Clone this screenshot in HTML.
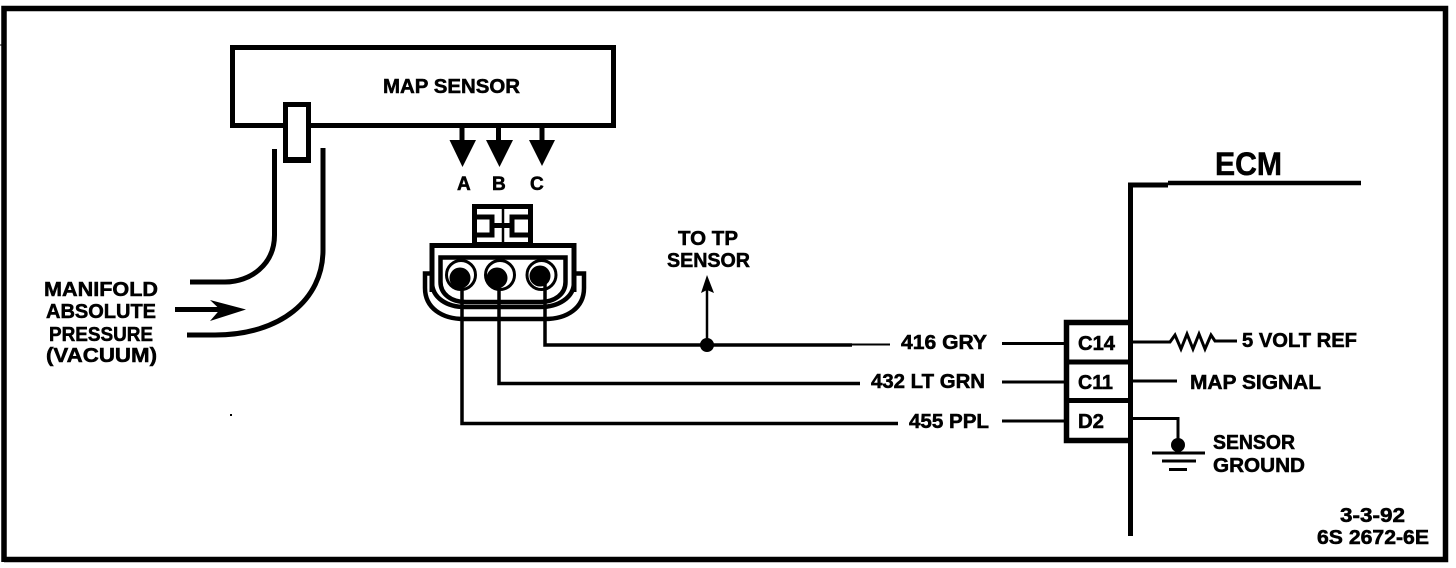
<!DOCTYPE html>
<html><head><meta charset="utf-8">
<style>
html,body{margin:0;padding:0;background:#fff;width:1456px;height:568px;overflow:hidden}
svg{display:block}
text{font-family:"Liberation Sans",sans-serif;font-weight:bold;fill:#000;stroke:#000;stroke-width:.55}
</style></head><body>
<svg width="1456" height="568" viewBox="0 0 1456 568" xmlns="http://www.w3.org/2000/svg">
<rect width="1456" height="568" fill="#fff"/>
<g fill="none" stroke="#000" stroke-linecap="butt">
<!-- frame -->
<path d="M4 562V8.500H1445.500V559.500H4" stroke-width="5.500"/>
<path d="M0 45H2" stroke-width="1"/>
<!-- map sensor -->
<rect x="232.500" y="47.500" width="381" height="78" stroke-width="5" fill="#fff"/>
<rect x="285.500" y="104.500" width="23" height="56" stroke-width="5" fill="#fff"/>
<path d="M288 159H306" stroke-width="4"/>
<!-- tubes -->
<path d="M274.500 149V235C274.500 265 250 282 225 282H190" stroke-width="5"/>
<path d="M323 148V250C323 300 280 335 215 335H187" stroke-width="5"/>
<path d="M175 309.500H220" stroke-width="5"/>
<!-- pins -->
<path d="M462 128V142M498.500 128V142M542 128V142" stroke-width="5"/>
<!-- connector tab -->
<rect x="474.500" y="206.500" width="56" height="38" stroke-width="5"/>
<path d="M503 207V244" stroke-width="2.500"/>
<path d="M477 217H492V225.500H503M477 235H492V227M529 217H512V225.500H503M529 235H512V227" stroke-width="5"/>
<!-- connector body -->
<path d="M432 292V245.500H574V292" stroke-width="5"/>
<path d="M440.500 257.500H565.500V282C565.500 294 555 302 540 302H466C451 302 440.500 294 440.500 282Z" stroke-width="4.500"/>
<path d="M432 282C432 298 447 307 465 307H540C558 307 574 298 574 282" stroke-width="4.500"/>
<path d="M433 273.500H425V288C425 308 442 319 464 319H545C567 319 584 308 584 288V273.500H575" stroke-width="4.500"/>
<!-- terminals -->
<circle cx="461" cy="275" r="14.500" stroke-width="3"/>
<circle cx="500" cy="275" r="14.500" stroke-width="3"/>
<circle cx="541.500" cy="275" r="14.500" stroke-width="3"/>
<!-- wires -->
<path d="M462 275V423.500H898" stroke-width="3.500"/>
<path d="M499 275V383.500H860" stroke-width="3.500"/>
<path d="M545 275V345H852" stroke-width="3.500"/>
<path d="M852 344.500H890" stroke-width="2"/>
<path d="M707 345V285" stroke-width="2.500"/>
<path d="M1002 343.500H1066M1002 382H1066M1002 421H1066" stroke-width="3"/>
<!-- ECM -->
<path d="M1130.500 536V185H1168" stroke-width="5"/>
<path d="M1168 183H1361" stroke-width="4.500"/>
<!-- pin block -->
<path d="M1130 322.500H1066.500V440.500H1130" stroke-width="5.500"/>
<path d="M1066 362H1130M1066 400.500H1130" stroke-width="5"/>
<!-- right signals -->
<path d="M1133 342H1170L1175 335L1181 349L1187 334L1193 349L1199 334L1205 349L1211 335L1215 341H1237" stroke-width="3"/>
<path d="M1133 381H1177" stroke-width="3"/>
<path d="M1133 418.500H1178V445" stroke-width="3"/>
<path d="M1152 453H1205M1162 461H1196M1169 469.500H1187" stroke-width="3"/>
</g>
<g fill="#000" stroke="none">
<path d="M449.500 140H476L462.500 167Z"/>
<path d="M486 140H513L499.500 167Z"/>
<path d="M529 140H555L542 166Z"/>
<path d="M210 300L246 309.500L210 321L220 309.500Z"/>
<path d="M701 293L707 275L714 293L707 290Z"/>
<circle cx="460" cy="278" r="10.500"/>
<circle cx="497" cy="278" r="10.500"/>
<circle cx="540" cy="276" r="10.500"/>
<circle cx="707" cy="345" r="7"/>
<circle cx="1178" cy="445" r="7"/>
<rect x="230" y="414" width="2" height="2"/>
</g>
<g font-size="20.500">
<text x="383" y="93" textLength="137" lengthAdjust="spacingAndGlyphs">MAP SENSOR</text>
<text x="457" y="190" font-size="19">A</text>
<text x="492" y="190" font-size="19">B</text>
<text x="530" y="190" font-size="19">C</text>
<text x="44" y="296" textLength="114" lengthAdjust="spacingAndGlyphs">MANIFOLD</text>
<text x="46" y="318" textLength="110" lengthAdjust="spacingAndGlyphs">ABSOLUTE</text>
<text x="49" y="341" textLength="104" lengthAdjust="spacingAndGlyphs">PRESSURE</text>
<text x="46" y="362" textLength="111" lengthAdjust="spacingAndGlyphs">(VACUUM)</text>
<text x="678" y="245" textLength="60" lengthAdjust="spacingAndGlyphs">TO TP</text>
<text x="667" y="267" textLength="83" lengthAdjust="spacingAndGlyphs">SENSOR</text>
<text x="901" y="349" textLength="86" lengthAdjust="spacingAndGlyphs">416 GRY</text>
<text x="871" y="388" textLength="114" lengthAdjust="spacingAndGlyphs">432 LT GRN</text>
<text x="909" y="428" textLength="80" lengthAdjust="spacingAndGlyphs">455 PPL</text>
<text x="1078" y="350" textLength="37" lengthAdjust="spacingAndGlyphs">C14</text>
<text x="1078" y="389" textLength="35" lengthAdjust="spacingAndGlyphs">C11</text>
<text x="1078" y="428" textLength="26" lengthAdjust="spacingAndGlyphs">D2</text>
<text x="1242" y="347" textLength="115" lengthAdjust="spacingAndGlyphs">5 VOLT REF</text>
<text x="1190" y="389" textLength="131" lengthAdjust="spacingAndGlyphs">MAP SIGNAL</text>
<text x="1213" y="449" textLength="82" lengthAdjust="spacingAndGlyphs">SENSOR</text>
<text x="1213" y="472" textLength="92" lengthAdjust="spacingAndGlyphs">GROUND</text>
<text x="1340" y="522" textLength="65" lengthAdjust="spacingAndGlyphs">3-3-92</text>
<text x="1317" y="544" textLength="112" lengthAdjust="spacingAndGlyphs">6S 2672-6E</text>
<text x="1215" y="175" font-size="32" textLength="67" lengthAdjust="spacingAndGlyphs">ECM</text>
</g>
</svg>
</body></html>
